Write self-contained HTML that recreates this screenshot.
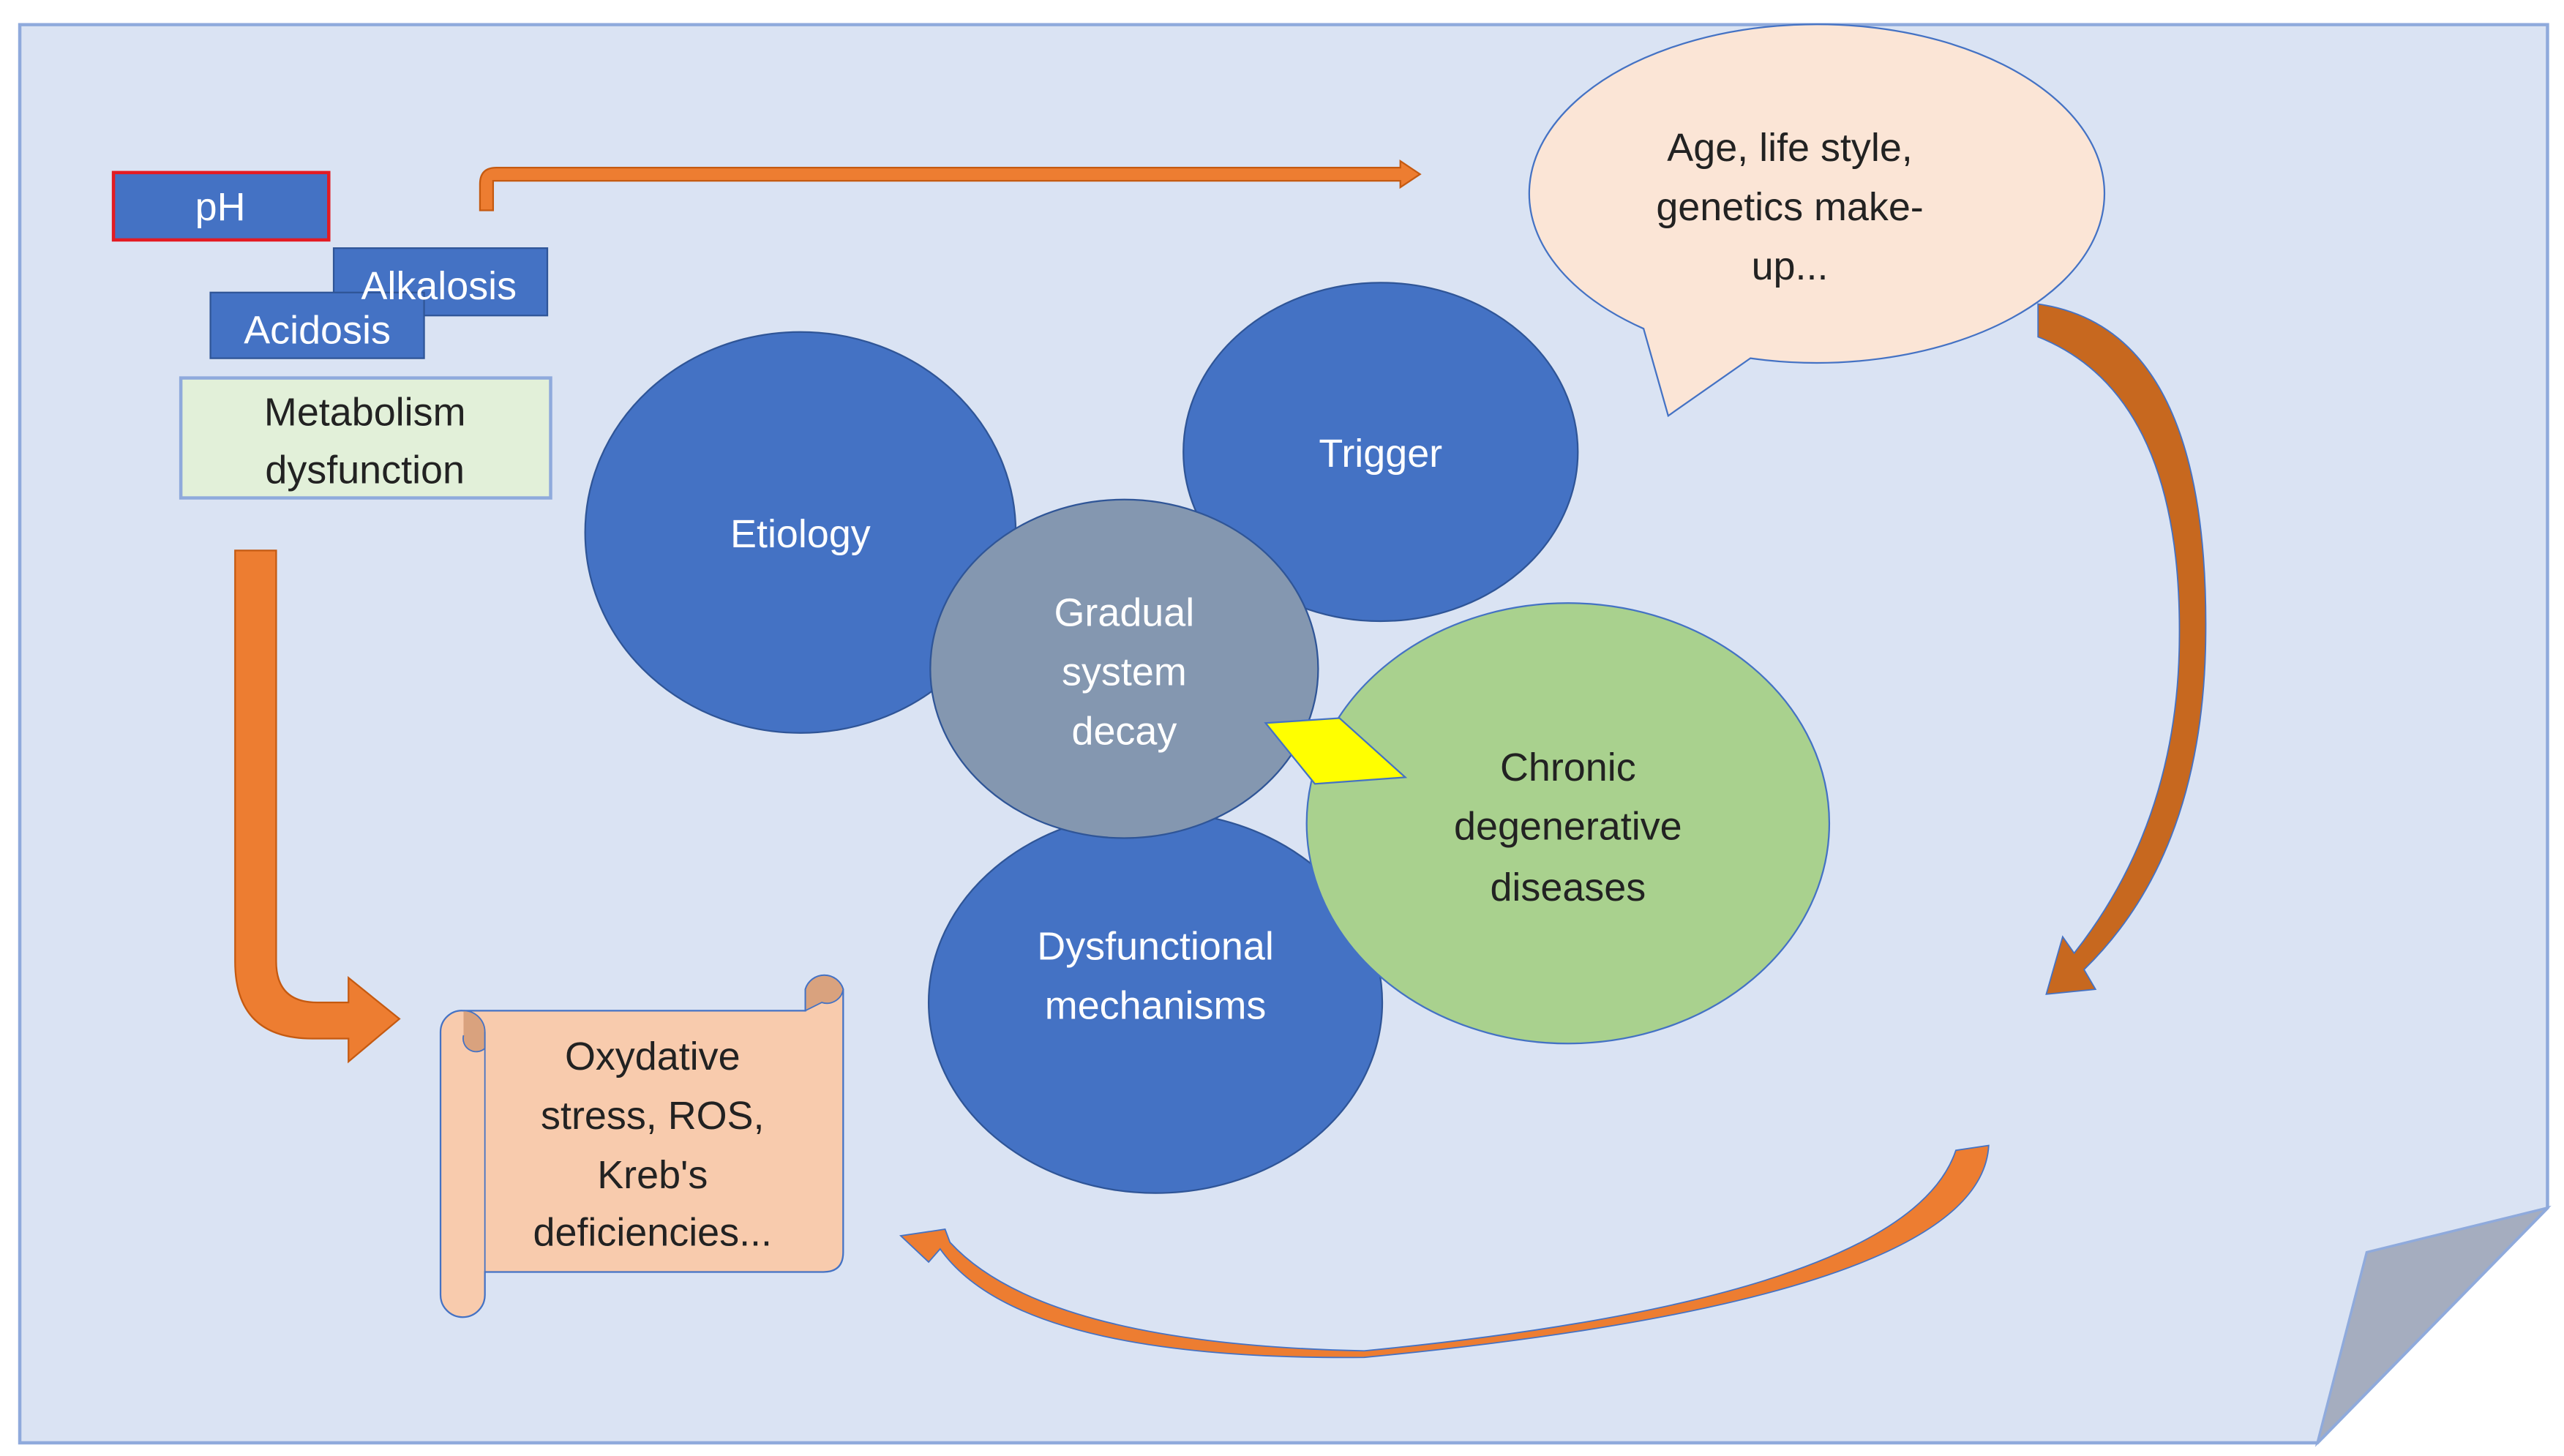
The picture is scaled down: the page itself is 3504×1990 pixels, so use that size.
<!DOCTYPE html>
<html><head><style>
html,body{margin:0;padding:0;background:#fff;width:3504px;height:1990px;overflow:hidden}
svg{display:block}
text{font-family:"Liberation Sans","DejaVu Sans",sans-serif;text-anchor:middle}
</style></head><body>
<svg width="3504" height="1990" viewBox="0 0 1560 886" xmlns="http://www.w3.org/2000/svg">
<rect width="1560" height="886" fill="#fff"/>
<polygon points="12,15 1550,15 1550,735 1410,878 12,878" fill="#dae3f3" stroke="#8faadc" stroke-width="2"/>
<polygon points="1440,762 1550,735 1410,878" fill="#a5adbf" stroke="#8faadc" stroke-width="1.5"/>

<path d="M292,128 L292,112 Q292,102 302,102 L852,102 L852,98 L864,106 L852,114 L852,110 L300,110 L300,128 Z" fill="#ed7d31" stroke="#c55a11" stroke-width="1"/>

<path d="M143,335 L168,335 L168,585 Q168,610 193,610 L212,610 L212,595 L243,620 L212,646 L212,632 L190,632 Q143,632 143,585 Z" fill="#ed7d31" stroke="#c55a11" stroke-width="1"/>

<path d="M1240,185 Q1345,200 1342,390 Q1340,520 1268,590 L1275,602 L1245,605 L1255,570 L1262,580 Q1325,500 1326,390 Q1328,240 1240,205 Z" fill="#c7681f" stroke="#4472c4" stroke-width="0.8"/>

<path d="M1210,697 Q1205,790 830,826 Q620,828 572,760 L565,768 L548,752 L575,748 L578,756 Q635,818 830,822 Q1160,790 1190,700 Z" fill="#ed7d31" stroke="#4472c4" stroke-width="0.8"/>

<ellipse cx="487" cy="324" rx="131" ry="122" fill="#4472c4" stroke="#2f5597" stroke-width="1"/>
<ellipse cx="840" cy="275" rx="120" ry="103" fill="#4472c4" stroke="#2f5597" stroke-width="1"/>
<ellipse cx="703" cy="610" rx="138" ry="116" fill="#4472c4" stroke="#2f5597" stroke-width="1"/>
<ellipse cx="684" cy="407" rx="118" ry="103" fill="#8497b0" stroke="#2f5597" stroke-width="1"/>
<ellipse cx="954" cy="501" rx="159" ry="134" fill="#a9d18e" stroke="#4472c4" stroke-width="1"/>
<polygon points="770,440 815,437 855,473 800,477" fill="#ffff00" stroke="#4472c4" stroke-width="1"/>

<g fill="#fff" font-size="24">
<text x="487" y="333">Etiology</text>
<text x="840" y="284">Trigger</text>
<text x="684" y="381">Gradual</text>
<text x="684" y="417">system</text>
<text x="684" y="453">decay</text>
<text x="703" y="584">Dysfunctional</text>
<text x="703" y="620">mechanisms</text>
</g>
<g fill="#222" font-size="24">
<text x="954" y="475">Chronic</text>
<text x="954" y="511">degenerative</text>
<text x="954" y="548">diseases</text>
</g>

<path d="M1000,200 A175,103 0 1 1 1065,218 L1015,253 Z" fill="#fbe5d6" stroke="#4472c4" stroke-width="1"/>
<g fill="#222" font-size="24">
<text x="1089" y="98">Age, life style,</text>
<text x="1089" y="134">genetics make-</text>
<text x="1089" y="170">up...</text>
</g>

<rect x="69" y="105" width="131" height="41" fill="#4472c4" stroke="#e31b23" stroke-width="2"/>
<text x="134" y="134" fill="#fff" font-size="24">pH</text>
<rect x="203" y="151" width="130" height="41" fill="#4472c4" stroke="#2f5597" stroke-width="1"/>
<rect x="128" y="178" width="130" height="40" fill="#4472c4" stroke="#2f5597" stroke-width="1"/>
<text x="267" y="182" fill="#fff" font-size="24">Alkalosis</text>
<text x="193" y="209" fill="#fff" font-size="24">Acidosis</text>
<rect x="110" y="230" width="225" height="73" fill="#e2f0d9" stroke="#8faadc" stroke-width="2"/>
<text x="222" y="259" fill="#222" font-size="24">Metabolism</text>
<text x="222" y="294" fill="#222" font-size="24">dysfunction</text>

<path d="M282,615 L490,615 L490,602 A12,12 0 0 1 513,602 L513,762 Q513,774 501,774 L295,774 L295,788 A13,13 0 0 1 268,788 L268,628 A13,13 0 0 1 282,615 Z" fill="#f8cbad" stroke="#4472c4" stroke-width="1"/>
<path d="M490,615 L490,602 A12,12 0 0 1 513,602 A10,10 0 0 1 500,610 Z" fill="#d9a27e" stroke="#4472c4" stroke-width="0.8"/>
<path d="M282,615 A13,13 0 0 1 295,628 L295,638 A8,8 0 0 1 282,630" fill="#d9a27e" stroke="#4472c4" stroke-width="0.8"/>
<line x1="295" y1="628" x2="295" y2="774" stroke="#4472c4" stroke-width="0.8"/>
<g fill="#222" font-size="24">
<text x="397" y="651">Oxydative</text>
<text x="397" y="687">stress, ROS,</text>
<text x="397" y="723">Kreb's</text>
<text x="397" y="758">deficiencies...</text>
</g>
</svg>
</body></html>
